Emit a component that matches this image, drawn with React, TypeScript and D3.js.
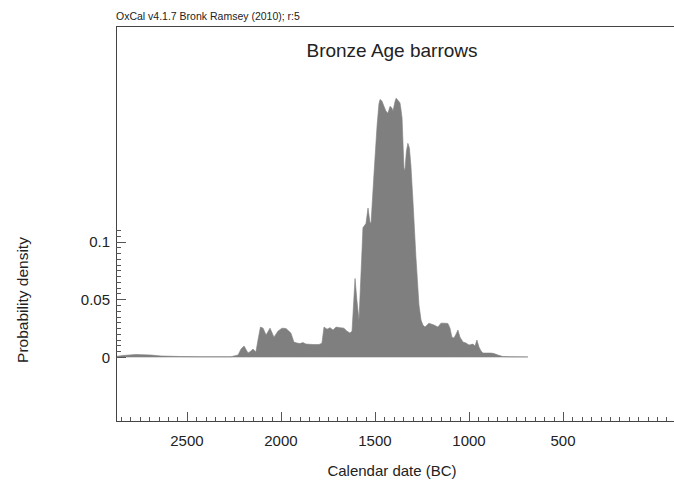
import React from "react";
import * as d3 from "d3";

const years = [2877, 2840, 2771, 2691, 2638, 2531, 2425, 2266, 2228, 2212, 2196, 2175, 2159, 2149, 2133, 2122, 2109, 2095, 2079, 2058, 2037, 2016, 1994, 1973, 1947, 1931, 1915, 1899, 1883, 1867, 1830, 1798, 1782, 1771, 1755, 1739, 1723, 1707, 1686, 1665, 1649, 1633, 1622, 1606, 1596, 1585, 1569, 1564, 1548, 1537, 1527, 1521, 1505, 1489, 1479, 1473, 1463, 1452, 1442, 1431, 1420, 1410, 1404, 1394, 1388, 1378, 1367, 1362, 1356, 1346, 1341, 1333, 1325, 1317, 1309, 1298, 1282, 1266, 1255, 1245, 1234, 1213, 1186, 1165, 1149, 1128, 1112, 1101, 1091, 1080, 1069, 1059, 1048, 1032, 1016, 1000, 979, 968, 958, 947, 936, 926, 905, 883, 867, 846, 820, 777, 687];
const density = [0.0005, 0.0013, 0.0022, 0.0017, 0.0009, 0.0004, 0.0002, 0.0002, 0.0017, 0.0069, 0.0095, 0.0034, 0.0052, 0.0069, 0.0043, 0.0147, 0.0259, 0.025, 0.019, 0.025, 0.0172, 0.0224, 0.025, 0.0246, 0.0207, 0.0129, 0.0121, 0.0116, 0.0125, 0.0112, 0.0108, 0.0108, 0.012, 0.0259, 0.0241, 0.0254, 0.0233, 0.0259, 0.0254, 0.025, 0.0224, 0.0207, 0.0224, 0.068, 0.049, 0.0319, 0.092, 0.112, 0.1155, 0.129, 0.117, 0.1155, 0.159, 0.2, 0.219, 0.223, 0.2216, 0.217, 0.213, 0.211, 0.217, 0.2155, 0.213, 0.2207, 0.224, 0.2224, 0.22, 0.2147, 0.207, 0.164, 0.161, 0.178, 0.185, 0.181, 0.166, 0.135, 0.086, 0.045, 0.032, 0.0276, 0.0259, 0.0293, 0.0276, 0.0259, 0.0293, 0.0293, 0.0289, 0.025, 0.0172, 0.0164, 0.0198, 0.0233, 0.0172, 0.0129, 0.0121, 0.0103, 0.0112, 0.0095, 0.0147, 0.0086, 0.0052, 0.0034, 0.0034, 0.0034, 0.003, 0.0017, 0.0004, 0.0002, 0.0001];

const xMajorTicks = [2500, 2000, 1500, 1000, 500];
const yMajorTicks = [0, 0.05, 0.1];
const yTickLabels = ["0", "0.05", "0.1"];
const title = "Bronze Age barrows";
const header = "OxCal v4.1.7 Bronk Ramsey (2010); r:5";
const xLabel = "Calendar date (BC)";
const yLabel = "Probability density";

const W = 674;
const H = 485;
const left = 116;
const right = 674;
const top = 26;
const bottom = 421;
const font = "'Liberation Sans', Arial, sans-serif";

export default function App() {
  const x = d3.scaleLinear().domain([2877, -90]).range([left, right]);
  const y = d3.scaleLinear().domain([0, 0.1]).range([357, 241.5]);

  const data = years.map((yr, i) => ({ yr, v: density[i] }));
  const area = d3
    .area<{ yr: number; v: number }>()
    .x((d) => x(d.yr))
    .y0(y(0))
    .y1((d) => y(d.v))
    .curve(d3.curveLinear);

  const xMinor = d3.range(2850, -90, -50);
  const yMinor = d3.range(0, 0.1101, 0.005);

  return (
    <svg
      width={W}
      height={H}
      style={{ position: "absolute", left: 0, top: 0, background: "#fff" }}
    >
      <defs>
        <clipPath id="plotclip">
          <rect x={left} y={top} width={right - left} height={bottom - top} />
        </clipPath>
      </defs>
      <rect x={0} y={0} width={W} height={H} fill="#fff" />
      <g clipPath="url(#plotclip)">
        <path d={area(data) || ""} fill="#7f7f7f" stroke="#7f7f7f" strokeWidth={0.6} strokeLinejoin="round" />
      </g>
      {/* frame */}
      <line x1={left} x2={right} y1={top + 0.5} y2={top + 0.5} stroke="#444" strokeWidth={1} />
      <line x1={left + 0.5} x2={left + 0.5} y1={top} y2={bottom} stroke="#444" strokeWidth={1} />
      <line x1={left} x2={right} y1={bottom + 0.5} y2={bottom + 0.5} stroke="#444" strokeWidth={1} />
      {/* x ticks */}
      {xMinor.map((t) => {
        const major = xMajorTicks.includes(t);
        return (
          <line
            key={"xt" + t}
            x1={Math.round(x(t)) + 0.5}
            x2={Math.round(x(t)) + 0.5}
            y1={bottom}
            y2={bottom - (major ? 9 : 4)}
            stroke="#555"
            strokeWidth={1}
          />
        );
      })}
      {xMajorTicks.map((t) => (
        <text
          key={"xl" + t}
          x={x(t)}
          y={446}
          textAnchor="middle"
          fontFamily={font}
          fontSize={15}
          fill="#222"
        >
          {t}
        </text>
      ))}
      {/* y ticks */}
      {yMinor.map((t, i) => {
        const major = i % 10 === 0;
        return (
          <line
            key={"yt" + i}
            x1={left}
            x2={left + (major ? 10 : 5)}
            y1={Math.round(y(t)) + 0.5}
            y2={Math.round(y(t)) + 0.5}
            stroke="#555"
            strokeWidth={1}
          />
        );
      })}
      {yMajorTicks.map((t, i) => (
        <text
          key={"yl" + t}
          x={110}
          y={y(t) + 5.5}
          textAnchor="end"
          fontFamily={font}
          fontSize={15}
          fill="#222"
        >
          {yTickLabels[i]}
        </text>
      ))}
      <text x={392} y={476} textAnchor="middle" fontFamily={font} fontSize={15} fill="#222">
        {xLabel}
      </text>
      <text
        transform="translate(28,300) rotate(-90)"
        textAnchor="middle"
        fontFamily={font}
        fontSize={15.5}
        fill="#222"
      >
        {yLabel}
      </text>
      <text x={392} y={57} textAnchor="middle" fontFamily={font} fontSize={19} fill="#222">
        {title}
      </text>
      <text x={116} y={20} fontFamily={font} fontSize={10.5} fill="#222">
        {header}
      </text>
    </svg>
  );
}
